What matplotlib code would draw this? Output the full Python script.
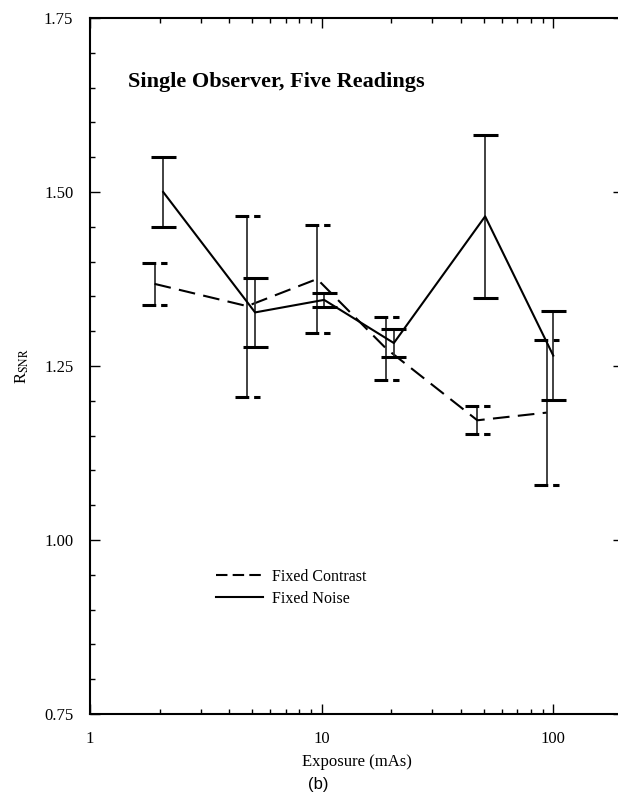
"""R_SNR vs exposure, single observer"""

import numpy as np
import matplotlib
matplotlib.use("Agg")
import matplotlib.pyplot as plt
import matplotlib.ticker as ticker


# data
contrast_x = [1.9, 4.77, 9.56, 19.0, 47.0, 93.5]
contrast_y = [1.368, 1.336, 1.375, 1.275, 1.172, 1.183]
contrast_err = [0.030, 0.130, 0.078, 0.045, 0.020, 0.104]

noise_x = [2.07, 5.16, 10.25, 20.5, 50.8, 100.0]
noise_y = [1.500, 1.327, 1.345, 1.283, 1.465, 1.265]
noise_err = [0.050, 0.050, 0.010, 0.020, 0.117, 0.064]

x_ticks = [1, 10, 100]
y_ticks = [0.75, 1.00, 1.25, 1.50, 1.75]

plt.rcParams['font.family'] = ['Liberation Serif', 'DejaVu Serif']
plt.rcParams['mathtext.fontset'] = 'stix'

W, H = 618, 794
fig = plt.figure(figsize=(W / 100, H / 100), dpi=100)
# axes in pixels: left 90, right 623 (cut by the edge), top 18, bottom 714
ax = fig.add_axes([90 / W, (H - 714) / H, 533 / W, 696 / H])

ax.set_xscale('log')
ax.set_xlim(1, 200)
ax.set_ylim(0.75, 1.75)

cap = 10 ** (12.5 / 231.5)  # half cap width as a factor on the log axis


def draw_series(xs, ys, es, ls, cap_ls):
    xs = np.array(xs)
    ys = np.array(ys)
    es = np.array(es)
    ax.vlines(xs, ys - es, ys + es, colors='#333333', linewidth=1.3)
    for y in (ys - es, ys + es):
        ax.hlines(y, xs / cap, xs * cap, colors='black', linewidth=2.2,
                  linestyles=cap_ls)
    line, = ax.plot(xs, ys, color='black', linewidth=1.5, linestyle=ls)
    return line


l1 = draw_series(contrast_x, contrast_y, contrast_err, (0, (8, 4)), (0, (4.5, 1.6)))
l2 = draw_series(noise_x, noise_y, noise_err, '-', '-')

# legend handles with a shorter dash so three dashes show
h1, = ax.plot([], [], color='black', linewidth=1.5, linestyle=(0, (5.5, 2.5)))
h2, = ax.plot([], [], color='black', linewidth=1.5, linestyle='-')
ax.legend([h1, h2], ['Fixed Contrast', 'Fixed Noise'], frameon=False,
          loc='upper left', bbox_to_anchor=(0.225, 0.218), fontsize=11.5,
          handlelength=2.9, handletextpad=0.6, labelspacing=0.4,
          borderpad=0.4, borderaxespad=0)

ax.text(0.071, 0.908, 'Single Observer, Five Readings', transform=ax.transAxes,
        fontsize=16, fontweight='bold', va='center', ha='left')

ax.set_xticks(x_ticks)
ax.xaxis.set_major_formatter(ticker.FuncFormatter(lambda v, p: '%g' % v))
ax.xaxis.set_minor_locator(ticker.LogLocator(base=10, subs=np.arange(2, 10)))
ax.xaxis.set_minor_formatter(ticker.NullFormatter())
ax.set_yticks(y_ticks)
ax.yaxis.set_major_formatter(ticker.FormatStrFormatter('%.2f'))
ax.yaxis.set_minor_locator(ticker.MultipleLocator(0.05))

ax.tick_params(which='both', direction='in', top=True, right=True,
               labelsize=12, width=1)
ax.tick_params(which='major', length=7)
ax.tick_params(axis='y', which='major', pad=12)
ax.tick_params(axis='x', which='major', pad=12)
ax.tick_params(which='minor', length=3.5)
for s in ax.spines.values():
    s.set_linewidth(1.5)

ax.set_xlabel('Exposure (mAs)', fontsize=12, labelpad=5)
ax.set_ylabel(r'R$_{\rm SNR}$', fontsize=12, labelpad=9)

fig.text(318 / W, 1 - 784 / H, '(b)', fontsize=12, ha='center', va='center',
         family=['Liberation Sans', 'DejaVu Sans'])

fig.savefig('out.png', dpi=100)
